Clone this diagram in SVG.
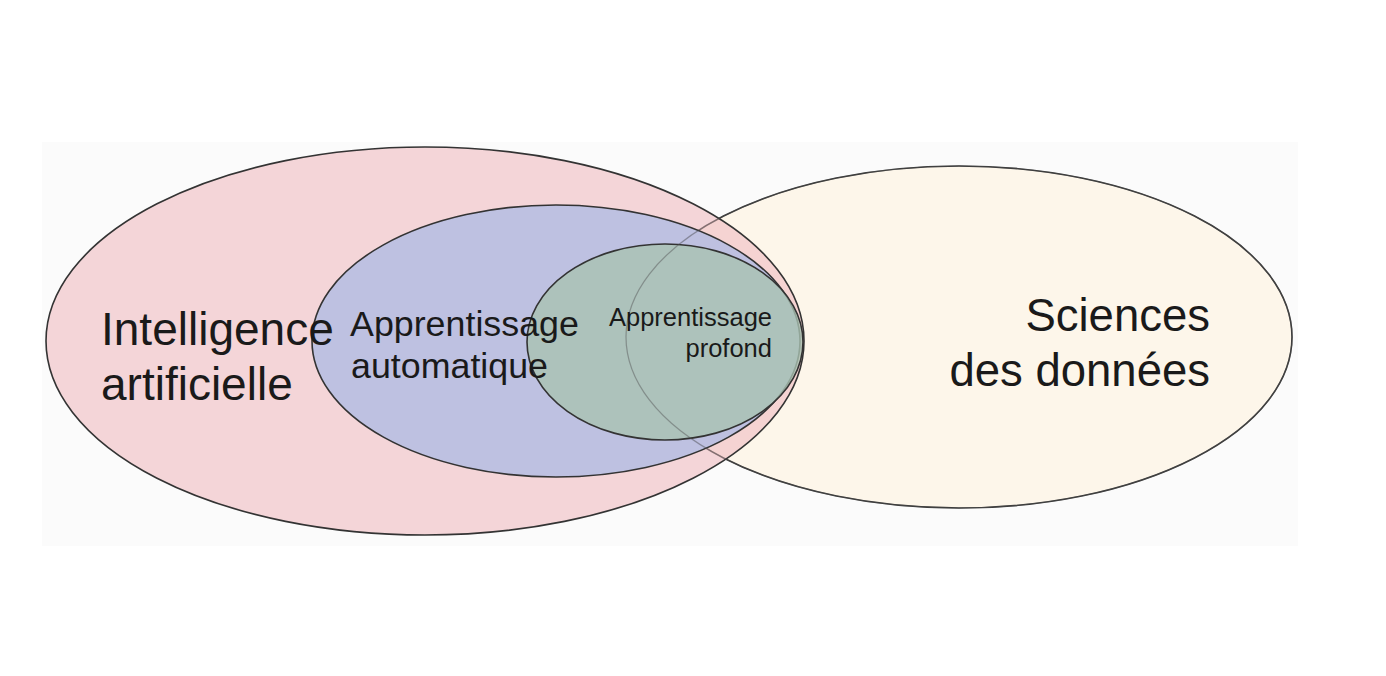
<svg xmlns="http://www.w3.org/2000/svg" width="1386" height="676" viewBox="0 0 1386 676">
<style>
  .o { stroke: #333; stroke-width: 1.6; }
  .t { font-family: "Liberation Sans", Arial, sans-serif; fill: #1a1a1a; }
</style>
<rect x="0" y="0" width="1386" height="676" fill="#ffffff"/>
<rect x="42" y="142" width="1256" height="404" fill="#fbfbfb"/>
<g id="sciences-donnees">
  <ellipse class="o" cx="959" cy="337" rx="333" ry="171" fill="#fdf6ea"/>
</g>
<g id="intelligence-artificielle">
  <ellipse class="o" cx="425" cy="341" rx="379" ry="194" fill="#f0bcc2" fill-opacity="0.6"/>
</g>
<g id="apprentissage-automatique">
  <ellipse class="o" cx="556" cy="341" rx="244" ry="136" fill="#b0bbe3" fill-opacity="0.8"/>
</g>
<g id="apprentissage-profond">
  <ellipse class="o" cx="665" cy="342" rx="138" ry="98" fill="#a9c2b2" fill-opacity="0.8"/>
</g>
<g id="connectors"></g>
<g id="sciences-donnees-outline">
  <ellipse cx="959" cy="337" rx="333" ry="171" fill="none" stroke="#555" stroke-opacity="0.45" stroke-width="1.2"/>
</g>
<g id="labels">
  <text class="t" font-size="46" x="101" y="345">Intelligence</text>
  <text class="t" font-size="46" x="101" y="400">artificielle</text>
  <text class="t" font-size="35.8" x="350" y="336">Apprentissage</text>
  <text class="t" font-size="35.8" x="351" y="378">automatique</text>
  <text class="t" font-size="25.5" x="772" y="326" text-anchor="end">Apprentissage</text>
  <text class="t" font-size="25.5" x="772" y="357" text-anchor="end">profond</text>
  <text class="t" font-size="45.5" x="1210" y="331" text-anchor="end">Sciences</text>
  <text class="t" font-size="45.5" x="1210" y="386" text-anchor="end">des données</text>
</g>
</svg>
